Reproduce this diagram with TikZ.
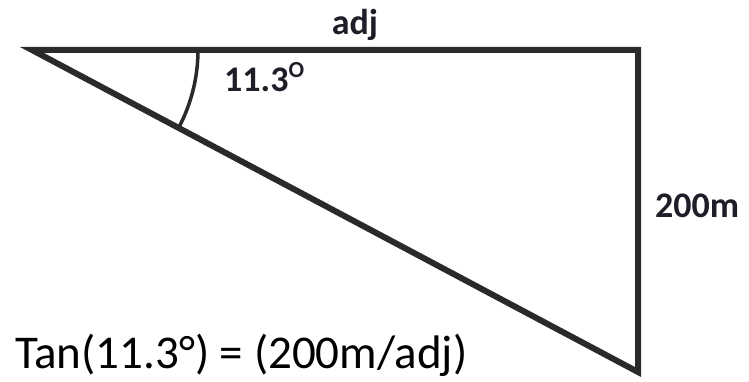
\documentclass[tikz,border=0pt]{standalone}
\usepackage{fontspec}
\setmainfont{Carlito}
\begin{document}
\begin{tikzpicture}[x=1pt,y=1pt,
  edge/.style={draw=linegray, line width=6pt, line join=miter},
  anglearc/.style={draw=linegray, line width=3.5pt},
  lbl/.style={inner sep=0pt, text=labelgray, font=\fontsize{36}{40}\selectfont\bfseries},
  formula/.style={inner sep=0pt, text=black, font=\fontsize{47}{52}\selectfont}]
\definecolor{linegray}{HTML}{2A2A2A}
\definecolor{labelgray}{HTML}{1E1E28}
\useasboundingbox (0,0) rectangle (749,381);
\coordinate (A) at (32,331);
\coordinate (B) at (638,331);
\coordinate (C) at (638,9);
\draw[edge] (A) -- (B) -- (C) -- cycle;
\draw[anglearc] (A) ++(0:166) arc[start angle=0, end angle=-27.98, radius=166];
\node[lbl, anchor=base] (adj) at (355,346) {adj};
\node[lbl, anchor=base west] (ang) at (224,289) {11.3\raisebox{14pt}{\fontsize{23}{23}\selectfont O}};
\node[lbl, anchor=base west] (opp) at (655,164) {200m};
\node[formula, anchor=base west] (eq) at (15,13) {Tan(11.3°) = (200m/adj)};
\end{tikzpicture}
\end{document}
